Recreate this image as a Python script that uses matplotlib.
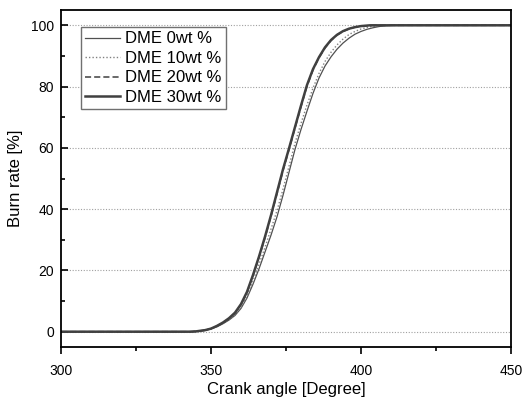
import numpy as np
import matplotlib.pyplot as plt
from matplotlib.ticker import MultipleLocator

plt.rcParams['font.family'] = ['Liberation Sans', 'DejaVu Sans']

# crank angle [deg] and burn rate [%]
theta_0 = [300, 343, 345, 348, 350, 352, 354, 356, 358, 360, 362, 364, 366, 368, 370,
           372, 374, 376, 378, 380, 382, 384, 386, 388, 390, 392, 394, 396, 398, 400,
           402, 404, 406, 408, 411, 450]
burn_0 = [0, 0, 0.05, 0.4, 0.9, 1.6, 2.6, 3.8, 5.3, 7.6, 11.0, 15.5, 20.5, 26, 31.5,
          37.5, 44.5, 52, 59.5, 66, 72, 77.8, 82.8, 86.7, 89.7, 92.2, 94.2, 95.8, 97.1, 98.0,
          98.7, 99.2, 99.6, 99.85, 100, 100]

theta_10 = [300, 343, 345, 348, 350, 352, 354, 356, 358, 360, 362, 364, 366, 368, 370,
            372, 374, 376, 378, 380, 382, 384, 386, 388, 390, 392, 394, 396, 398, 400,
            402, 404, 407, 410, 450]
burn_10 = [0, 0, 0.05, 0.45, 1.0, 1.7, 2.8, 4.0, 5.6, 8.0, 11.6, 16.5, 22, 27.5, 33.5,
           39.5, 46.5, 54, 61.5, 68, 74, 79.5, 84.3, 88.2, 91.2, 93.6, 95.5, 97.0, 98.0, 98.8,
           99.3, 99.7, 99.9, 100, 100]

theta_20 = [300, 343, 345, 348, 350, 352, 354, 356, 358, 360, 362, 364, 366, 368, 370,
            372, 374, 376, 378, 380, 382, 384, 386, 388, 390, 392, 394, 396, 398, 400,
            404, 450]
burn_20 = [0, 0, 0.1, 0.5, 1.0, 1.85, 2.9, 4.3, 6.1, 8.8, 12.8, 18.2, 24.2, 30.6, 37.6,
           45.0, 52.5, 59.4, 66.4, 73.4, 80.1, 85.4, 89.4, 92.6, 95.0, 96.8, 98.0, 98.8, 99.4, 99.7,
           100, 100]

theta_30 = [300, 343, 345, 348, 350, 352, 354, 356, 358, 360, 362, 364, 366, 368, 370,
            372, 374, 376, 378, 380, 382, 384, 386, 388, 390, 392, 394, 396, 398, 400,
            403, 450]
burn_30 = [0, 0, 0.1, 0.5, 1.0, 1.9, 3.0, 4.4, 6.2, 9.0, 13.0, 18.5, 24.5, 31, 38,
           45.5, 53, 59.8, 66.8, 73.8, 80.5, 85.7, 89.6, 92.8, 95.2, 96.9, 98.1, 98.9, 99.4, 99.75,
           100, 100]

labels = ['DME 0wt %', 'DME 10wt %', 'DME 20wt %', 'DME 30wt %']

fig = plt.figure(figsize=(5.31, 4.0), dpi=100)
ax = fig.add_axes([0.1149, 0.1325, 0.8474, 0.8425])

ax.plot(theta_0, burn_0, color='#505050', lw=0.9, ls='-', label=labels[0])
ax.plot(theta_10, burn_10, color='#808080', lw=1.0, ls=(0, (1, 1.5)), label=labels[1])
ax.plot(theta_20, burn_20, color='#404040', lw=1.1, ls=(0, (4, 2)), label=labels[2])
ax.plot(theta_30, burn_30, color='#404040', lw=1.8, ls='-', label=labels[3])

ax.set_xlim(300, 450)
ax.set_ylim(-5, 105)
ax.xaxis.set_major_locator(MultipleLocator(50))
ax.xaxis.set_minor_locator(MultipleLocator(25))
ax.yaxis.set_major_locator(MultipleLocator(20))
ax.yaxis.set_minor_locator(MultipleLocator(10))
ax.tick_params(axis='x', which='major', direction='out', length=5, width=1.2, labelsize=10,
               pad=7, top=False)
ax.tick_params(axis='x', which='minor', direction='out', length=3, width=1.2, top=False)
ax.tick_params(axis='y', which='major', direction='in', length=5, width=1.2, labelsize=10,
               pad=5, right=False)
ax.tick_params(axis='y', which='minor', direction='in', length=3, width=1.2, right=False)
ax.grid(axis='y', which='major', ls=(0, (1, 1.5)), color='#a0a0a0', lw=0.8)
for s in ax.spines.values():
    s.set_linewidth(1.3)

ax.set_xlabel('Crank angle [Degree]', fontsize=12, labelpad=3)
ax.set_ylabel('Burn rate [%]', fontsize=12, labelpad=6)

leg = ax.legend(loc='upper left', bbox_to_anchor=(0.044, 0.95), borderaxespad=0,
                fontsize=12, handlelength=2.1, handletextpad=0.28, labelspacing=0.27,
                borderpad=0.27, fancybox=False, framealpha=1, edgecolor='#707070')
leg.get_frame().set_linewidth(1.0)

fig.savefig('out.png', dpi=100)
